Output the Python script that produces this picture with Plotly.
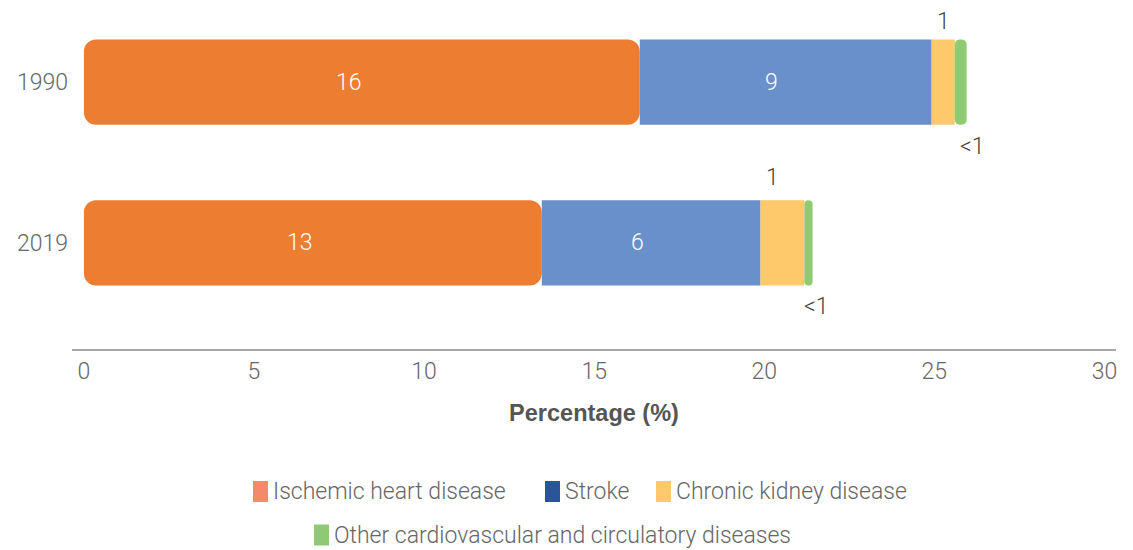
import numpy as np
import plotly.graph_objects as go

# ---------------- data ----------------
categories = ["1990", "2019"]
ischemic = [16.34, 13.46]
stroke = [8.58, 6.43]
ckd = [0.68, 1.29]
other = [0.35, 0.24]

ischemic_labels = ["16", "13"]
stroke_labels = ["9", "6"]
ckd_labels = ["1", "1"]
other_labels = ["<1", "<1"]

legend_names = ["Ischemic heart disease", "Stroke", "Chronic kidney disease",
                "Other cardiovascular and circulatory diseases"]

x_ticks = [0, 5, 10, 15, 20, 25, 30]

# ---------------- styles ----------------
bar_colors = ["#ED7D31", "#6990CA", "#FEC96A", "#8FCB72"]
legend_colors = ["#F4896B", "#2A5597", "#FDC96B", "#8FC975"]
FONT = "Roboto"
TXT = "#666666"
LIGHT = dict(family=FONT, size=23, color=TXT, weight=300)

# page has an 8px body margin: figure is sized/positioned to compensate
OFF = 8
W, H = 1133 - OFF, 550 - OFF
ML, MR, MT, MB = 72 - OFF, 17, 0, 201
PW, PH = W - ML - MR, H - MT - MB

cat_order = ["2019", "1990"]           # bottom to top
cat_idx = [cat_order.index(c) for c in categories]

isc = np.array(ischemic)
stk = np.array(stroke)
ck = np.array(ckd)
oth = np.array(other)
end_isc = isc
end_stk = isc + stk
end_ck = end_stk + ck

BW = 0.53
fig = go.Figure()
# ischemic drawn from its right end back to zero so the left end is rounded
fig.add_trace(go.Bar(y=categories, x=-isc, base=end_isc, orientation="h",
                     marker=dict(color=bar_colors[0], cornerradius=12, line=dict(width=0)),
                     name=legend_names[0], showlegend=False, width=BW))
fig.add_trace(go.Bar(y=categories, x=stk, base=end_isc, orientation="h",
                     marker=dict(color=bar_colors[1], cornerradius=0, line=dict(width=0)),
                     name=legend_names[1], showlegend=False, width=BW))
fig.add_trace(go.Bar(y=categories, x=ck, base=end_stk, orientation="h",
                     marker=dict(color=bar_colors[2], cornerradius=0, line=dict(width=0)),
                     name=legend_names[2], showlegend=False, width=BW))
fig.add_trace(go.Bar(y=categories, x=oth, base=end_ck, orientation="h",
                     marker=dict(color=bar_colors[3], cornerradius=12, line=dict(width=0)),
                     name=legend_names[3], showlegend=False, width=BW))

ann = []
for i, yi in enumerate(cat_idx):
    ann.append(dict(x=isc[i] / 2, y=yi, text=ischemic_labels[i], showarrow=False, xshift=-13,
                    font=dict(family=FONT, size=23, color="white", weight=300)))
    ann.append(dict(x=end_isc[i] + stk[i] / 2, y=yi, text=stroke_labels[i], showarrow=False, xshift=-14,
                    font=dict(family=FONT, size=23, color="white", weight=300)))
ckd_xshift = [0, -10]
ckd_yshift = [61, 65]
oth_xshift = [12, 8]
for i, yi in enumerate(cat_idx):
    ann.append(dict(x=end_stk[i] + ck[i] / 2, y=yi, text=ckd_labels[i], showarrow=False,
                    xshift=ckd_xshift[i], yshift=ckd_yshift[i],
                    font=dict(family=FONT, size=23, color="#444444", weight=300)))
    ann.append(dict(x=end_ck[i] + oth[i] / 2, y=yi, text=other_labels[i], showarrow=False,
                    xshift=oth_xshift[i], yshift=-64,
                    font=dict(family=FONT, size=23, color="#444444", weight=300)))

# manual legend (swatches + text); positions given in reference-image pixels
def px_x(px):
    return (px - OFF - ML) / PW

def px_y(py):
    return (H - MB - (py - OFF)) / PH

legend_items = [(253, 491.5), (545, 491.5), (656, 491.5), (314, 535)]
shapes = []
for (sx, cy), name, col in zip(legend_items, legend_names, legend_colors):
    shapes.append(dict(type="rect", xref="paper", yref="paper",
                       x0=px_x(sx), x1=px_x(sx + 15), y0=px_y(cy + 10.5), y1=px_y(cy - 10.5),
                       fillcolor=col, line=dict(width=0)))
    ann.append(dict(xref="paper", yref="paper", x=px_x(sx + 18), y=px_y(cy), xanchor="left",
                    yanchor="middle", text=name, showarrow=False, font=LIGHT))

fig.update_layout(
    width=W, height=H,
    margin=dict(l=ML, r=MR, t=MT, b=MB, autoexpand=False),
    barmode="overlay",
    plot_bgcolor="white", paper_bgcolor="white",
    annotations=ann, shapes=shapes,
    font=dict(family=FONT, color=TXT, size=20),
    xaxis=dict(range=[-0.35, 30.34], tickvals=x_ticks, ticktext=[str(t) for t in x_ticks],
               showgrid=False, zeroline=False, showline=True, linecolor="#a8a8a8", linewidth=2,
               ticks="", ticklabelstandoff=0, tickfont=LIGHT,
               title=dict(text="<b>Percentage (%)</b>", standoff=21,
                          font=dict(family="Liberation Sans", size=23.5, color="#555555"))),
    yaxis=dict(type="category", categoryorder="array", categoryarray=cat_order,
               range=[-0.66, 1.461], showgrid=False, zeroline=False, showline=False, ticks="",
               ticklabelstandoff=3, tickfont=LIGHT),
    showlegend=False,
)

fig.write_html("out.html")
